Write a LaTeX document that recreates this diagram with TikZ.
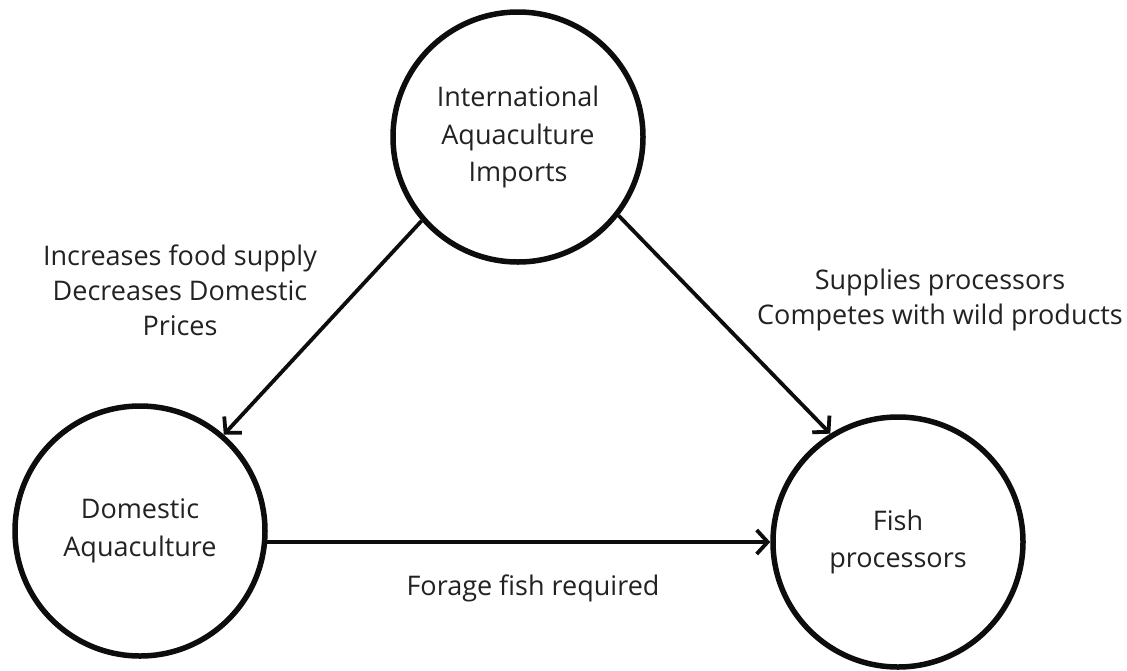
\documentclass[tikz,border=0pt]{standalone}
\usepackage{fontspec}
\setmainfont{Open Sans}
\usetikzlibrary{arrows.meta}
\definecolor{ink}{HTML}{0D0D0D}
\definecolor{txt}{HTML}{222222}
\begin{document}
\begin{tikzpicture}[x=1pt,y=-1pt,
  hub/.style={circle, draw=ink, line width=5.5pt, minimum size=250pt, inner sep=0pt,
    align=center, text=txt, font=\fontsize{27}{37.5}\selectfont},
  link/.style={draw=ink, line width=3.8pt,
    -{Straight Barb[length=11pt,width=24pt,line width=3.8pt]}},
  note/.style={align=center, text=txt, font=\fontsize{27}{35}\selectfont}]
  \useasboundingbox[fill=white] (0,0) rectangle (1127,670);
  % the three parties
  \node[hub] (imp) at (518,137) {International\\Aquaculture\\Imports};
  \node[hub] (dom) at (140,531) {Domestic\\Aquaculture};
  \node[hub] (fp)  at (898,542) {Fish\\processors};
  % influences between them
  \draw[link] (imp.221) -- (dom.49);
  \draw[link] (imp.322) -- (fp.122);
  \path (dom.center |- fp.west) ++(126,0) coordinate (s3);
  \draw[link] (s3) -- (fp.west);
  % labels
  \node[note] (l1) at (180,290) {Increases food supply\\Decreases Domestic\\Prices};
  \node[note] (l2) at (940,300) {Supplies processors\\Competes with wild products};
  \node[note] (l3) at (533,588) {Forage fish required};
\end{tikzpicture}
\end{document}
